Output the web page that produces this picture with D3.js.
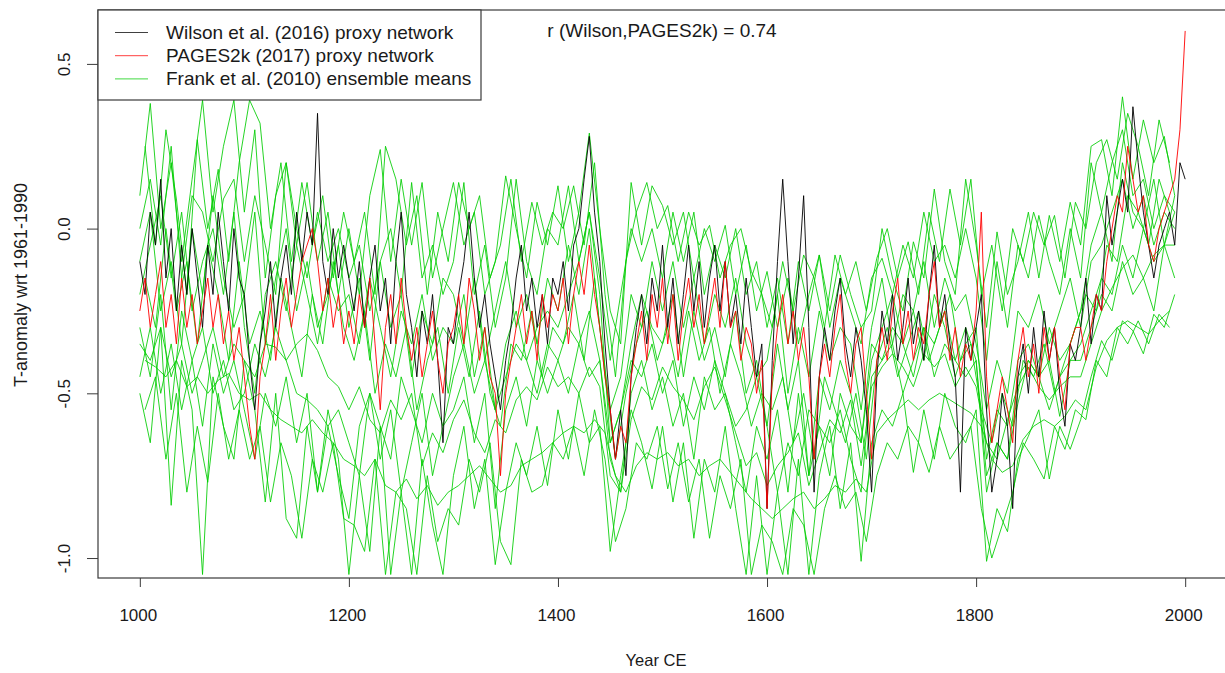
<!DOCTYPE html>
<html><head><meta charset="utf-8">
<script src="https://cdn.jsdelivr.net/npm/d3@7"></script>
<style>
html,body{margin:0;padding:0;background:#fff;}
svg{display:block;font-family:"Liberation Sans",Arial,sans-serif;}
</style></head>
<body>
<svg id="chart" width="1225" height="673"></svg>
<script>
// ---------- DATA ----------
const xTicks = [1000, 1200, 1400, 1600, 1800, 2000];
const yTicks = [-1.0, -0.5, 0.0, 0.5];
const yTickLabels = ["-1.0", "-0.5", "0.0", "0.5"];
const legendLabels = ["Wilson et al. (2016) proxy network", "PAGES2k (2017) proxy network", "Frank et al. (2010) ensemble means"];
const corrText = "r (Wilson,PAGES2k) = 0.74";

// Wilson et al. (2016), 5-yearly samples 1000..2000
const wilsonYears = d3.range(1000, 2001, 5);
const wilson = [
 -0.10,-0.20,0.05,-0.05,0.15,-0.15,0.00,-0.25,-0.05,-0.20,0.00,-0.15,-0.30,-0.05,-0.20,0.05,-0.10,-0.25,0.00,-0.15,
 -0.20,-0.40,-0.55,-0.35,-0.25,-0.10,-0.30,-0.15,-0.05,-0.20,0.05,-0.10,0.05,-0.05,0.35,-0.10,-0.20,0.00,-0.15,-0.05,
 -0.15,-0.25,-0.10,-0.30,-0.15,-0.05,-0.25,-0.15,-0.35,-0.10,0.05,-0.20,-0.30,-0.45,-0.25,-0.35,-0.20,-0.40,-0.65,-0.30,
 -0.35,-0.20,-0.10,0.05,-0.15,-0.30,-0.20,-0.35,-0.45,-0.55,-0.40,-0.30,-0.15,-0.05,-0.25,-0.15,-0.30,-0.20,-0.35,-0.15,
 -0.20,-0.10,-0.25,-0.05,0.00,0.15,0.28,0.05,-0.10,-0.35,-0.55,-0.70,-0.55,-0.75,-0.45,-0.30,-0.20,-0.35,-0.15,-0.25,
 -0.05,-0.30,-0.15,-0.35,-0.20,-0.05,-0.25,-0.10,-0.30,-0.15,-0.05,-0.25,-0.10,-0.30,-0.20,-0.35,-0.15,-0.30,-0.45,-0.35,
 -0.85,-0.40,-0.10,0.15,-0.10,-0.35,-0.15,0.10,-0.30,-0.80,-0.45,-0.30,-0.40,-0.25,-0.15,-0.35,-0.45,-0.30,-0.40,-0.55,
 -0.80,-0.45,-0.25,-0.35,-0.20,-0.40,-0.30,-0.15,-0.35,-0.25,-0.40,-0.20,-0.05,-0.30,-0.20,-0.35,-0.45,-0.80,-0.30,-0.40,
 -0.30,-0.20,-0.55,-0.80,-0.70,-0.50,-0.60,-0.85,-0.45,-0.35,-0.50,-0.30,-0.45,-0.25,-0.40,-0.30,-0.50,-0.60,-0.35,-0.40,
 -0.30,-0.15,-0.35,-0.20,-0.25,0.10,-0.05,0.05,0.15,0.05,0.37,0.20,0.05,-0.05,-0.15,-0.05,0.00,0.05,-0.05,0.20,0.15
];

// PAGES2k (2017), 5-yearly samples 1000..2000
const pagesYears = d3.range(1000, 2001, 5);
const pages2k = [
 -0.25,-0.15,-0.30,-0.20,-0.10,-0.30,-0.20,-0.35,-0.15,-0.30,-0.20,-0.35,-0.25,-0.15,-0.30,-0.20,-0.35,-0.25,-0.40,-0.30,
 -0.45,-0.60,-0.70,-0.45,-0.35,-0.20,-0.40,-0.25,-0.15,-0.30,-0.20,-0.10,-0.05,0.00,-0.10,-0.25,-0.15,-0.30,-0.20,-0.35,
 -0.25,-0.35,-0.20,-0.30,-0.15,-0.35,-0.55,-0.30,-0.20,-0.35,-0.15,-0.30,-0.40,-0.30,-0.45,-0.35,-0.25,-0.40,-0.50,-0.35,
 -0.30,-0.20,-0.35,-0.15,-0.25,-0.40,-0.30,-0.45,-0.50,-0.75,-0.50,-0.40,-0.30,-0.20,-0.35,-0.25,-0.40,-0.20,-0.30,-0.20,
 -0.25,-0.15,-0.35,-0.20,-0.10,-0.20,-0.05,-0.20,-0.30,-0.45,-0.55,-0.70,-0.60,-0.65,-0.45,-0.35,-0.25,-0.40,-0.20,-0.30,
 -0.15,-0.35,-0.20,-0.40,-0.25,-0.15,-0.30,-0.20,-0.35,-0.25,-0.15,-0.30,-0.10,-0.30,-0.25,-0.40,-0.30,-0.35,-0.50,-0.40,
 -0.85,-0.45,-0.30,-0.20,-0.35,-0.25,-0.40,-0.30,-0.45,-0.70,-0.45,-0.35,-0.45,-0.30,-0.20,-0.40,-0.50,-0.35,-0.30,-0.50,
 -0.70,-0.40,-0.30,-0.40,-0.25,-0.15,-0.35,-0.25,-0.40,-0.30,-0.35,-0.20,-0.10,-0.30,-0.25,-0.40,-0.30,-0.45,-0.35,-0.40,
 -0.25,0.05,-0.45,-0.65,-0.55,-0.45,-0.55,-0.65,-0.40,-0.30,-0.45,-0.35,-0.50,-0.30,-0.40,-0.30,-0.45,-0.55,-0.35,-0.30,
 -0.30,-0.40,-0.30,-0.20,-0.25,-0.10,0.00,0.10,0.05,0.25,0.15,0.05,0.10,-0.05,-0.10,0.00,0.05,0.10,0.15,0.30,0.60
];

// Frank et al. (2010) ensemble means, 10-yearly samples
const frankYears = d3.range(1000, 1991, 10);     // series A-H
const frankYearsOff = d3.range(1005, 1986, 10);  // series I-L
const frankA = [
 0.10,0.38,0.00,0.20,-0.10,0.15,0.39,0.05,0.25,0.39,
 0.05,0.30,-0.15,0.10,0.20,-0.05,0.14,-0.10,0.05,-0.20,
 0.00,-0.20,0.10,0.24,-0.10,0.15,-0.05,0.14,-0.15,0.00,
 0.14,-0.05,0.05,-0.20,-0.10,0.16,0.00,-0.15,0.08,-0.05,
 0.13,-0.10,0.05,0.29,0.00,-0.25,-0.35,0.14,-0.05,0.13,
 0.07,-0.05,0.05,-0.15,0.00,-0.10,0.01,-0.20,-0.05,-0.25,
 -0.13,-0.30,-0.15,-0.35,-0.20,-0.08,-0.25,-0.08,-0.20,-0.30,
 -0.25,0.00,-0.15,-0.25,-0.04,-0.15,0.12,-0.10,-0.20,0.15,
 -0.05,-0.30,-0.01,-0.20,-0.10,0.05,-0.15,0.04,-0.10,0.08,
 -0.05,0.25,0.27,0.10,0.40,0.15,0.33,0.20,0.28,0.10
];
const frankB = [
 -0.50,-0.65,-0.30,-0.84,-0.40,-0.55,-1.05,-0.45,-0.60,-0.70,
 -0.40,-0.55,-0.83,-0.50,-0.88,-0.94,-0.60,-0.80,-0.55,-0.70,
 -1.05,-0.75,-0.98,-0.60,-1.05,-0.80,-1.05,-0.70,-0.90,-1.05,
 -0.75,-0.60,-0.85,-0.70,-1.02,-0.80,-0.65,-0.75,-0.60,-0.78,
 -0.55,-0.70,-0.50,-0.65,-0.60,-0.98,-0.75,-0.55,-0.65,-0.79,
 -0.60,-0.83,-0.65,-0.94,-0.70,-0.80,-0.60,-0.85,-1.05,-0.75,
 -1.05,-0.80,-1.05,-0.70,-1.05,-0.75,-0.60,-0.85,-0.65,-1.01,
 -0.65,-0.55,-0.60,-0.50,-0.74,-0.55,-0.70,-0.50,-0.60,-0.65,
 -0.55,-1.01,-0.85,-0.92,-0.70,-0.63,-0.55,-0.76,-0.60,-0.67,
 -0.58,-0.45,-0.34,-0.40,-0.28,-0.31,-0.38,-0.26,-0.30,-0.20
];
const frankC = [
 -0.35,-0.40,-0.30,-0.45,-0.35,-0.50,-0.40,-0.30,-0.45,-0.35,
 -0.40,-0.45,-0.35,-0.36,-0.40,-0.35,-0.32,-0.37,-0.45,-0.48,
 -0.55,-0.48,-0.58,-0.62,-0.52,-0.58,-0.50,-0.72,-0.62,-0.68,
 -0.58,-0.52,-0.62,-0.68,-0.58,-0.62,-0.52,-0.48,-0.52,-0.42,
 -0.48,-0.45,-0.50,-0.42,-0.48,-0.75,-0.80,-0.58,-0.48,-0.52,
 -0.42,-0.48,-0.52,-0.58,-0.48,-0.42,-0.52,-0.62,-0.72,-0.68,
 -0.78,-0.72,-0.68,-0.62,-0.78,-0.68,-0.58,-0.62,-0.52,-0.72,
 -0.48,-0.42,-0.38,-0.42,-0.48,-0.38,-0.42,-0.38,-0.48,-0.42,
 -0.48,-0.65,-0.70,-0.58,-0.48,-0.42,-0.48,-0.52,-0.48,-0.45,
 -0.45,-0.35,-0.25,-0.18,-0.12,-0.08,-0.15,-0.08,-0.05,-0.05
];
const frankD = [
 -0.10,0.05,-0.25,-0.10,-0.35,0.00,-0.20,0.10,-0.15,-0.30,
 -0.20,0.05,-0.35,-0.15,0.00,-0.25,-0.10,-0.30,-0.20,-0.05,
 -0.30,-0.15,-0.40,-0.10,-0.30,-0.20,-0.45,-0.25,-0.35,-0.15,
 -0.20,-0.35,-0.15,-0.40,-0.25,-0.10,-0.30,-0.20,-0.35,-0.15,
 -0.25,-0.05,-0.20,0.00,-0.30,-0.55,-0.45,-0.20,-0.30,-0.10,
 -0.25,-0.10,-0.30,-0.15,-0.35,-0.20,-0.30,-0.15,-0.35,-0.45,
 -0.40,-0.20,-0.50,-0.30,-0.45,-0.25,-0.40,-0.30,-0.35,-0.55,
 -0.30,-0.15,-0.35,-0.20,-0.25,-0.10,-0.30,-0.15,-0.25,-0.20,
 -0.35,-0.55,-0.40,-0.50,-0.25,-0.30,-0.20,-0.35,-0.25,-0.15,
 -0.30,-0.10,-0.05,0.05,0.15,0.00,0.10,-0.05,0.05,0.00
];
const frankE = [
 -0.30,-0.45,-0.20,-0.55,-0.25,-0.40,-0.60,-0.35,-0.50,-0.40,
 -0.55,-0.70,-0.50,-0.60,-0.45,-0.65,-0.50,-0.80,-0.60,-0.75,
 -0.88,-0.60,-0.50,-0.70,-0.55,-0.80,-0.65,-0.50,-0.75,-0.60,
 -0.55,-0.45,-0.65,-0.50,-0.85,-0.55,-0.45,-0.60,-0.40,-0.50,
 -0.40,-0.50,-0.35,-0.45,-0.40,-0.70,-0.80,-0.50,-0.40,-0.55,
 -0.45,-0.60,-0.50,-0.70,-0.45,-0.55,-0.50,-0.65,-0.80,-0.60,
 -0.70,-0.55,-0.80,-0.50,-0.75,-0.60,-0.65,-0.55,-0.70,-0.80,
 -0.45,-0.40,-0.35,-0.50,-0.40,-0.30,-0.45,-0.35,-0.40,-0.45,
 -0.40,-0.80,-0.65,-0.70,-0.45,-0.40,-0.45,-0.55,-0.45,-0.40,
 -0.40,-0.30,-0.20,-0.25,-0.10,-0.20,-0.15,-0.25,-0.05,-0.15
];
const frankF = [
 0.00,0.15,-0.05,0.25,-0.15,0.10,0.05,-0.10,0.09,0.15,
 -0.10,0.10,-0.05,-0.20,0.20,0.00,-0.15,0.05,-0.10,0.00,
 -0.15,-0.05,-0.25,-0.10,0.00,-0.20,0.14,-0.15,-0.05,-0.20,
 -0.10,0.14,-0.20,-0.05,-0.30,-0.15,0.15,-0.10,-0.20,0.00,
 -0.05,0.13,-0.10,0.05,-0.15,-0.40,-0.20,0.00,-0.10,0.00,
 -0.15,0.05,-0.10,0.05,-0.20,-0.05,-0.15,0.00,-0.20,-0.10,
 -0.30,-0.15,-0.35,-0.10,-0.25,-0.08,-0.30,-0.15,-0.25,-0.35,
 -0.15,-0.09,-0.20,-0.05,-0.15,0.05,-0.10,-0.05,-0.15,0.00,
 -0.15,-0.40,-0.10,-0.30,-0.05,-0.15,0.04,-0.10,-0.20,0.00,
 -0.15,0.20,0.05,0.20,0.30,0.10,0.15,0.00,0.10,0.05
];
const frankG = [
 -0.45,-0.30,-0.50,-0.35,-0.55,-0.40,-0.30,-0.50,-0.40,-0.55,
 -0.50,-0.35,-0.45,-0.30,-0.40,-0.50,-0.52,-0.55,-0.60,-0.55,
 -0.65,-0.75,-0.50,-0.60,-0.70,-0.45,-0.55,-0.65,-0.50,-0.60,
 -0.45,-0.35,-0.50,-0.40,-0.55,-0.45,-0.35,-0.40,-0.50,-0.35,
 -0.40,-0.30,-0.35,-0.25,-0.40,-0.65,-0.55,-0.40,-0.45,-0.35,
 -0.50,-0.40,-0.60,-0.45,-0.55,-0.40,-0.50,-0.60,-0.55,-0.45,
 -0.60,-0.80,-0.65,-0.75,-0.55,-0.60,-0.75,-0.50,-0.60,-0.65,
 -0.35,-0.40,-0.30,-0.35,-0.45,-0.30,-0.35,-0.25,-0.40,-0.30,
 -0.40,-0.75,-0.65,-0.70,-0.53,-0.40,-0.45,-0.40,-0.57,-0.40,
 -0.35,-0.25,-0.15,-0.20,-0.05,-0.15,0.00,-0.10,-0.05,0.05
];
const frankH = [
 -0.20,-0.05,0.10,-0.15,0.05,-0.25,-0.10,0.00,-0.20,0.05,
 -0.30,-0.50,-0.20,-0.10,-0.25,-0.05,-0.20,-0.35,-0.15,-0.25,
 -0.20,-0.35,-0.15,-0.30,-0.45,-0.25,-0.35,-0.20,-0.40,-0.30,
 -0.35,-0.20,-0.45,-0.30,-0.55,-0.35,-0.25,-0.40,-0.30,-0.25,
 -0.30,-0.20,-0.10,0.05,-0.20,-0.65,-0.55,-0.35,-0.20,-0.30,
 -0.35,-0.20,-0.45,-0.25,-0.40,-0.30,-0.45,-0.25,-0.50,-0.40,
 -0.60,-0.35,-0.55,-0.40,-0.75,-0.45,-0.55,-0.40,-0.50,-0.65,
 -0.40,-0.30,-0.20,-0.35,-0.25,-0.40,-0.20,-0.30,-0.45,-0.35,
 -0.30,-0.70,-0.55,-0.60,-0.40,-0.35,-0.45,-0.30,-0.40,-0.35,
 -0.25,-0.05,0.05,-0.10,0.20,0.05,0.00,0.15,-0.05,0.10
];
const frankI = [
 0.25,-0.05,0.30,0.09,-0.20,0.27,0.00,0.18,-0.10,0.20,
 0.39,0.32,0.00,0.20,-0.10,0.14,-0.05,0.10,-0.15,0.05,
 -0.10,0.05,-0.20,0.25,0.15,-0.05,0.10,-0.20,0.05,-0.10,
 0.14,0.00,0.10,-0.15,-0.05,0.15,-0.10,0.08,-0.05,0.05,
 0.00,0.13,-0.05,0.20,-0.20,-0.45,-0.10,0.05,0.14,0.00,
 0.07,-0.10,0.05,-0.05,0.01,-0.15,-0.05,0.00,-0.13,-0.20,
 -0.30,-0.10,-0.25,-0.08,-0.15,-0.30,-0.08,-0.20,-0.10,-0.25,
 -0.09,0.00,-0.15,-0.04,-0.20,0.05,-0.10,0.12,-0.05,0.15,
 -0.20,-0.05,-0.25,0.00,-0.10,0.05,-0.05,0.04,-0.15,0.08,
 0.00,0.20,0.27,0.15,0.35,0.25,0.10,0.33,0.20
];
const frankJ = [
 -0.55,-0.45,-0.70,-0.50,-0.80,-0.60,-0.77,-0.50,-0.70,-0.55,
 -0.70,-0.60,-0.83,-0.65,-0.75,-0.94,-0.70,-0.80,-0.65,-0.88,
 -0.90,-0.98,-0.70,-1.05,-0.80,-0.85,-1.05,-0.75,-0.95,-0.85,
 -0.90,-0.70,-0.80,-0.65,-0.95,-1.02,-0.70,-0.80,-0.78,-0.65,
 -0.70,-0.60,-0.75,-0.55,-0.70,-0.95,-0.85,-0.65,-0.70,-0.60,
 -0.79,-0.65,-0.83,-0.70,-0.94,-0.75,-0.85,-0.70,-1.05,-0.90,
 -0.95,-1.05,-0.85,-0.90,-1.05,-0.85,-0.75,-0.85,-0.80,-0.95,
 -0.75,-0.65,-0.70,-0.60,-0.65,-0.74,-0.60,-0.70,-0.65,-0.60,
 -0.85,-1.00,-0.90,-0.80,-0.65,-0.70,-0.76,-0.60,-0.67,-0.55,
 -0.58,-0.40,-0.45,-0.30,-0.35,-0.28,-0.35,-0.26,-0.30
];
const frankK = [
 -0.15,-0.30,0.00,-0.25,-0.10,-0.35,-0.05,-0.20,-0.40,-0.10,
 -0.35,-0.25,-0.40,-0.15,-0.30,-0.45,-0.20,-0.35,-0.10,-0.30,
 -0.40,-0.25,-0.50,-0.35,-0.45,-0.30,-0.55,-0.40,-0.30,-0.50,
 -0.30,-0.45,-0.25,-0.50,-0.60,-0.35,-0.40,-0.25,-0.45,-0.30,
 -0.35,-0.20,-0.40,-0.15,-0.45,-0.70,-0.50,-0.35,-0.25,-0.40,
 -0.30,-0.45,-0.25,-0.40,-0.30,-0.50,-0.35,-0.45,-0.60,-0.50,
 -0.55,-0.45,-0.65,-0.50,-0.70,-0.45,-0.55,-0.65,-0.50,-0.70,
 -0.40,-0.30,-0.45,-0.35,-0.25,-0.40,-0.30,-0.20,-0.40,-0.35,
 -0.55,-0.65,-0.50,-0.60,-0.40,-0.45,-0.35,-0.50,-0.40,-0.30,
 -0.20,-0.25,-0.05,-0.10,0.10,0.05,-0.05,0.15,0.05
];
const frankL = [
 -0.40,-0.42,-0.45,-0.40,-0.48,-0.45,-0.50,-0.46,-0.44,-0.50,
 -0.52,-0.50,-0.55,-0.58,-0.60,-0.62,-0.58,-0.62,-0.65,-0.70,
 -0.72,-0.75,-0.70,-0.78,-0.80,-0.76,-0.82,-0.78,-0.84,-0.80,
 -0.78,-0.75,-0.72,-0.76,-0.80,-0.78,-0.72,-0.70,-0.68,-0.65,
 -0.62,-0.60,-0.62,-0.58,-0.62,-0.75,-0.80,-0.72,-0.68,-0.70,
 -0.68,-0.72,-0.70,-0.75,-0.72,-0.70,-0.74,-0.78,-0.82,-0.85,
 -0.88,-0.85,-0.82,-0.80,-0.85,-0.82,-0.78,-0.80,-0.76,-0.80,
 -0.62,-0.58,-0.55,-0.52,-0.55,-0.52,-0.50,-0.52,-0.54,-0.56,
 -0.60,-0.70,-0.74,-0.72,-0.64,-0.60,-0.58,-0.60,-0.57,-0.52,
 -0.55,-0.42,-0.34,-0.30,-0.28,-0.30,-0.32,-0.28,-0.25
];
const frankSeries = [
  {years: frankYears, values: frankA}, {years: frankYears, values: frankB},
  {years: frankYears, values: frankC}, {years: frankYears, values: frankD},
  {years: frankYears, values: frankE}, {years: frankYears, values: frankF},
  {years: frankYears, values: frankG}, {years: frankYears, values: frankH},
  {years: frankYearsOff, values: frankI}, {years: frankYearsOff, values: frankJ},
  {years: frankYearsOff, values: frankK}, {years: frankYearsOff, values: frankL}
];

// ---------- LAYOUT ----------
const plot = {left: 98, top: 10, right: 1227, bottom: 578};
const x = d3.scaleLinear().domain([960, 2040]).range([plot.left, plot.right]);
const y = d3.scaleLinear().domain([-1.0606, 0.6636]).range([plot.bottom, plot.top]);

const COL_BLACK = "#000000", COL_RED = "#ff0000", COL_GREEN = "#00cd00";
const TXT = "#1a1a1a", axisColor = "#3a3a3a";

const svg = d3.select("#chart");
svg.append("defs").append("clipPath").attr("id", "clip")
  .append("rect").attr("x", plot.left).attr("y", plot.top)
  .attr("width", plot.right - plot.left).attr("height", plot.bottom - plot.top);

const g = svg.append("g").attr("clip-path", "url(#clip)");
const lineFor = (years) => d3.line().x((d, i) => x(years[i])).y(d => y(d));

frankSeries.forEach(s => {
  g.append("path").attr("d", lineFor(s.years)(s.values)).attr("fill", "none")
    .attr("stroke", COL_GREEN).attr("stroke-width", 1).attr("stroke-opacity", 0.85);
});
g.append("path").attr("d", lineFor(wilsonYears)(wilson)).attr("fill", "none")
  .attr("stroke", COL_BLACK).attr("stroke-width", 1).attr("stroke-opacity", 0.9);
g.append("path").attr("d", lineFor(pagesYears)(pages2k)).attr("fill", "none")
  .attr("stroke", COL_RED).attr("stroke-width", 1).attr("stroke-opacity", 0.9);

// x axis
const xAxis = d3.axisBottom(x).tickValues(xTicks).tickFormat(d3.format("d")).tickSize(9).tickPadding(22);
const gx = svg.append("g").attr("transform", `translate(0,${plot.bottom})`).call(xAxis);
gx.select(".domain").remove();
gx.selectAll("line").attr("stroke", axisColor);
gx.selectAll("text").attr("font-size", 17).attr("fill", TXT)
  .attr("font-family", "Liberation Sans, Arial, sans-serif").attr("dx", "-2");

// y axis
const yAxis = d3.axisLeft(y).tickValues(yTicks).tickFormat((d, i) => yTickLabels[i]).tickSize(11);
const gy = svg.append("g").attr("transform", `translate(${plot.left},0)`).call(yAxis);
gy.select(".domain").remove();
gy.selectAll("line").attr("stroke", axisColor);
gy.selectAll("text").attr("font-size", 17).attr("fill", TXT)
  .attr("font-family", "Liberation Sans, Arial, sans-serif")
  .attr("text-anchor", "middle")
  .attr("x", -34).attr("y", 0).attr("dy", "0.35em")
  .attr("transform", "rotate(-90, -34, 0)");

// box
svg.append("rect").attr("x", plot.left).attr("y", plot.top)
  .attr("width", plot.right - plot.left).attr("height", plot.bottom - plot.top)
  .attr("fill", "none").attr("stroke", axisColor).attr("stroke-width", 1.2);

// axis titles
svg.append("text").attr("x", 656).attr("y", 666).attr("text-anchor", "middle")
  .attr("font-size", 16.5).attr("fill", TXT).text("Year CE");
svg.append("text").attr("transform", "translate(27, 285) rotate(-90)").attr("text-anchor", "middle")
  .attr("font-size", 18).attr("fill", TXT).text("T-anomaly wrt 1961-1990");

// correlation text
svg.append("text").attr("x", 662).attr("y", 37).attr("text-anchor", "middle")
  .attr("font-size", 19).attr("fill", TXT).text(corrText);

// legend
const leg = svg.append("g");
leg.append("rect").attr("x", plot.left).attr("y", plot.top).attr("width", 383).attr("height", 90)
  .attr("fill", "#fff").attr("stroke", axisColor).attr("stroke-width", 1.2);
const legColors = [COL_BLACK, COL_RED, COL_GREEN];
legendLabels.forEach((t, i) => {
  const yy = 32.5 + i * 23.2;
  leg.append("line").attr("x1", 115).attr("x2", 148).attr("y1", yy).attr("y2", yy)
    .attr("stroke", legColors[i]).attr("stroke-width", 1).attr("stroke-opacity", 0.75);
  leg.append("text").attr("x", 166).attr("y", yy + 6.5)
    .attr("font-size", 19).attr("fill", TXT).text(t);
});
</script>
</body></html>
